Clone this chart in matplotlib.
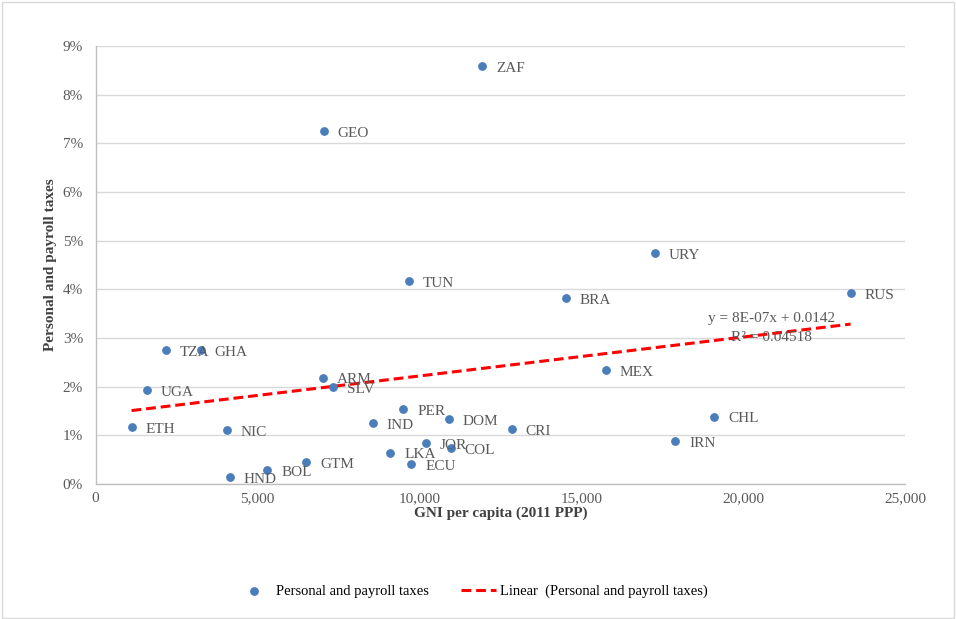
import matplotlib
matplotlib.use("Agg")
from matplotlib import pyplot as plt
from matplotlib.ticker import FuncFormatter
import matplotlib.patches as patches
import numpy as np

# Data
countries = ['ZAF', 'GEO', 'URY', 'TUN', 'BRA', 'RUS', 'TZA', 'GHA', 'MEX', 'ARM',
             'SLV', 'UGA', 'PER', 'DOM', 'CHL', 'IND', 'ETH', 'CRI', 'NIC', 'IRN',
             'JOR', 'COL', 'LKA', 'GTM', 'ECU', 'BOL', 'HND']
gni = [11940, 7050, 17260, 9680, 14510, 23310, 2170, 3250, 15750, 7030,
       7340, 1580, 9500, 10900, 19100, 8550, 1110, 12850, 4060, 17900,
       10190, 10960, 9100, 6500, 9750, 5300, 4150]
taxes = [8.58, 7.25, 4.74, 4.17, 3.82, 3.92, 2.75, 2.75, 2.34, 2.18,
         1.99, 1.93, 1.54, 1.33, 1.38, 1.25, 1.17, 1.13, 1.11, 0.88,
         0.84, 0.74, 0.64, 0.45, 0.41, 0.29, 0.14]

# Excel trendline as printed on the chart
trend_slope = 8e-07
trend_intercept = 0.0142
trend_r2 = 0.04518

x_ticks = [0, 5000, 10000, 15000, 20000, 25000]
y_ticks = [0, 1, 2, 3, 4, 5, 6, 7, 8, 9]

plt.rcParams['font.family'] = ['Liberation Serif', 'DejaVu Serif']
grey = '#595959'
dot_color = '#4a7ebb'

fig = plt.figure(figsize=(9.56, 6.19), dpi=100)
ax = fig.add_axes([0.100, 0.218, 0.847, 0.708])

# chart border
fig.patches.append(patches.Rectangle((0.002, 0.002), 0.996, 0.994, transform=fig.transFigure,
                                     fill=False, edgecolor='#d9d9d9', linewidth=1.0))

ax.scatter(gni, taxes, s=28, color=dot_color, zorder=3, label='Personal and payroll taxes')

for name, x, y in zip(countries, gni, taxes):
    ax.annotate(name, (x, y), xytext=(10, -1.5), textcoords='offset points',
                va='center', ha='left', fontsize=11, color=grey)

tx = np.array([min(gni), max(gni)])
ty = (trend_slope * tx + trend_intercept) * 100
ax.plot(tx, ty, color='#ff0000', linewidth=2.2, linestyle=(0, (3.2, 1.6)), zorder=2,
        label='Linear  (Personal and payroll taxes)')

ax.text(20880, 3.39, 'y = 8E-07x + 0.0142', ha='center', va='center', fontsize=11, color=grey)
ax.text(20880, 3.02, 'R² = %.5f' % trend_r2, ha='center', va='center', fontsize=11, color=grey)

ax.set_xlim(0, 25000)
ax.set_ylim(0, 9)
ax.set_xticks(x_ticks)
ax.set_yticks(y_ticks)
ax.xaxis.set_major_formatter(FuncFormatter(lambda v, p: '{:,.0f}'.format(v)))
ax.yaxis.set_major_formatter(FuncFormatter(lambda v, p: '%d%%' % v))
ax.tick_params(length=0, labelsize=11, labelcolor=grey)
ax.tick_params(axis='y', pad=9)
ax.tick_params(axis='x', pad=6)
ax.yaxis.grid(True, color='#d9d9d9', linewidth=1.0)
ax.set_axisbelow(True)
for side in ['top', 'right']:
    ax.spines[side].set_visible(False)
for side in ['left', 'bottom']:
    ax.spines[side].set_color('#bfbfbf')
    ax.spines[side].set_linewidth(1.0)

ax.set_xlabel('GNI per capita (2011 PPP)', fontsize=11, fontweight='bold', color='#404040', labelpad=1)
ax.set_ylabel('Personal and payroll taxes', fontsize=11, fontweight='bold', color='#404040', labelpad=4)

fig.legend(loc='center', bbox_to_anchor=(0.494, 0.045), ncol=2, frameon=False, fontsize=10.5,
           handlelength=2.4, columnspacing=2.2, handletextpad=0.3)

fig.savefig('out.png', dpi=100)
